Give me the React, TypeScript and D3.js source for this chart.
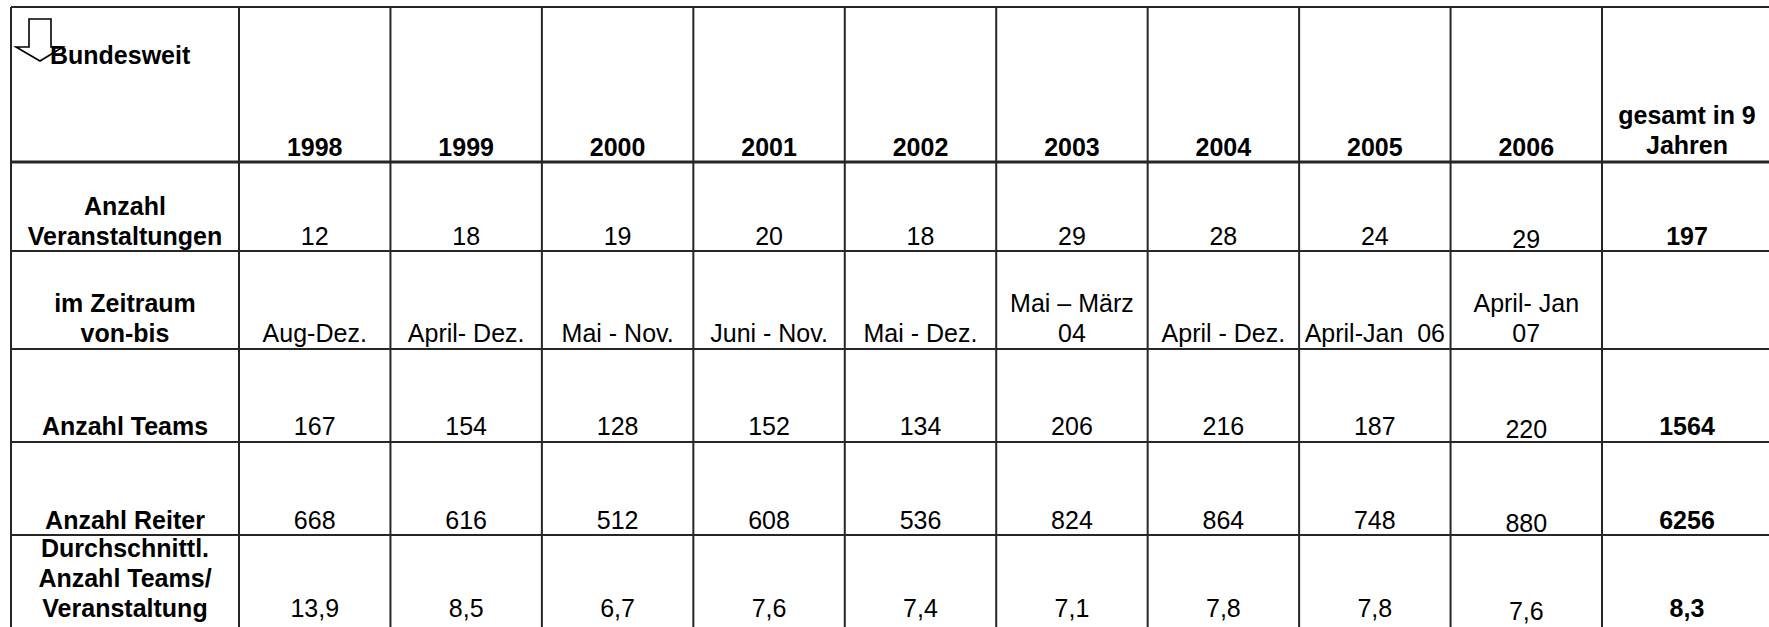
import * as d3 from "d3";

const years = ["1998", "1999", "2000", "2001", "2002", "2003", "2004", "2005", "2006"];
const events = [12, 18, 19, 20, 18, 29, 28, 24, 29];
const periods = [
    ["Aug-Dez."],
    ["April- Dez."],
    ["Mai - Nov."],
    ["Juni - Nov."],
    ["Mai - Dez."],
    ["Mai – März", "04"],
    ["April - Dez."],
    ["April-Jan  06"],
    ["April- Jan", "07"],
];
const teams = [167, 154, 128, 152, 134, 206, 216, 187, 220];
const riders = [668, 616, 512, 608, 536, 824, 864, 748, 880];
const avgTeams = [13.9, 8.5, 6.7, 7.6, 7.4, 7.1, 7.8, 7.8, 7.6];
const totals = { events: 197, teams: 1564, riders: 6256, avg: 8.3 };
const rowLabels = [
    ["Anzahl", "Veranstaltungen"],
    ["im Zeitraum", "von-bis"],
    ["Anzahl Teams"],
    ["Anzahl Reiter"],
    ["Durchschnittl.", "Anzahl Teams/", "Veranstaltung"],
];
const totalHeader = ["gesamt in 9", "Jahren"];

const W = 1769;
const H = 627;
const left = 11;
const top = 7;
const labelRight = 239;
const yearsRight = 1602;
const rightEdge = 1772;
// grid lines: bottom edge of header + each row (last one runs off the page)
const rowBottoms = [162, 251, 349, 442, 535, 640];
// where the last text line of each cell sits
const textBottoms = [163, 252, 349, 442, 536, 624];
const lineGap = 30;
const font = "'Liberation Sans', Arial, sans-serif";
const fs = 25;
const stroke = "#262626";

const de = d3.formatLocale({ decimal: ",", thousands: ".", grouping: [3], currency: ["", "€"] });
const fmt1 = de.format(".1f");

export default function App() {
    const x = d3.scaleBand<string>().domain(years).range([labelRight, yearsRight]).padding(0);
    const cx = (i: number) => (x(years[i]) || 0) + x.bandwidth() / 2;
    const totalCx = (yearsRight + rightEdge) / 2;
    const labelCx = (left + labelRight) / 2;

    const rows: { cells: string[][]; total: string[] }[] = [
        { cells: events.map((d) => [String(d)]), total: [String(totals.events)] },
        { cells: periods, total: [] },
        { cells: teams.map((d) => [String(d)]), total: [String(totals.teams)] },
        { cells: riders.map((d) => [String(d)]), total: [String(totals.riders)] },
        { cells: avgTeams.map((d) => [fmt1(d)]), total: [fmt1(totals.avg)] },
    ];

    const cellText = (lines: string[], cxv: number, bottom: number, bold: boolean, key: string, dy = 0) =>
        lines.map((t, k) => (
            <text
                key={key + k}
                x={cxv}
                y={bottom - 7 - (lines.length - 1 - k) * lineGap + dy}
                textAnchor="middle"
                fontFamily={font}
                fontSize={fs}
                fontWeight={bold ? "bold" : "normal"}
                fill="#000"
                style={{ whiteSpace: "pre" }}
            >
                {t}
            </text>
        ));

    const vLines = [left, ...years.map((y) => x(y) || 0), yearsRight];

    return (
        <svg width={W} height={H} style={{ position: "absolute", left: 0, top: 0, background: "#fff" }}>
            <rect x={0} y={0} width={W} height={H} fill="#fff" />
            {/* grid */}
            <line x1={left} x2={W} y1={top} y2={top} stroke={stroke} strokeWidth={2} />
            {rowBottoms.map((b, i) => (
                <line key={"h" + i} x1={left} x2={W} y1={b} y2={b} stroke={stroke} strokeWidth={i === 0 ? 3 : 2} />
            ))}
            {vLines.map((v, i) => (
                <line key={"v" + i} x1={v} x2={v} y1={top} y2={H + 10} stroke={stroke} strokeWidth={2} />
            ))}

            {/* corner arrow + title */}
            <path
                d="M29,19 L51,19 L51,47 L63,47 L40,61 L16,47 L29,47 Z"
                fill="#fff"
                stroke="#000"
                strokeWidth={1.6}
            />
            <text x={50} y={64} fontFamily={font} fontSize={fs} fontWeight="bold">
                Bundesweit
            </text>

            {/* header */}
            {years.map((y, i) => cellText([y], cx(i), textBottoms[0], true, "y" + i))}
            {cellText(totalHeader, totalCx, textBottoms[0] - 2, true, "th")}

            {/* body */}
            {rows.map((r, ri) => (
                <g key={"r" + ri}>
                    {cellText(rowLabels[ri], labelCx, textBottoms[ri + 1], true, "l" + ri)}
                    {r.cells.map((c, ci) =>
                        cellText(c, cx(ci), textBottoms[ri + 1], false, `c${ri}-${ci}`, ci === 8 && ri !== 1 ? 3 : 0)
                    )}
                    {cellText(r.total, totalCx, textBottoms[ri + 1], true, "t" + ri)}
                </g>
            ))}
        </svg>
    );
}
